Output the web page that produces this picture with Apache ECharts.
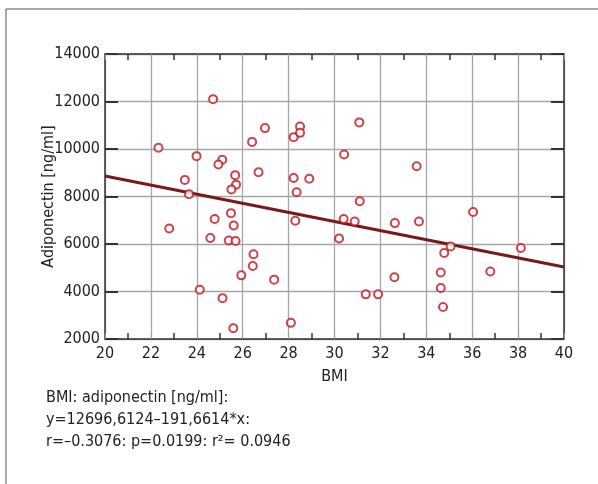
<!DOCTYPE html>
<html>
<head>
<meta charset="utf-8">
<script src="https://cdn.jsdelivr.net/npm/echarts@6/dist/echarts.min.js"></script>
<style>
  html, body { margin: 0; padding: 0; background: #fff; }
  #chart { width: 598px; height: 484px; }
</style>
</head>
<body>
<div id="chart"></div>
<script>
// BMI values (x)
var bmi = [24.71, 22.33, 23.99, 25.11, 24.94, 23.48, 23.66, 22.80, 25.67, 25.71,
           25.51, 25.49, 24.78, 25.61, 24.59, 25.39, 25.69, 26.47, 26.44, 25.94,
           27.37, 24.13, 25.12, 25.59, 28.10, 26.41, 26.97, 26.69, 28.22, 28.50,
           28.50, 28.22, 28.90, 28.35, 28.29, 31.08, 30.42, 31.10, 30.40, 30.88,
           30.20, 31.36, 31.90, 32.63, 32.61, 33.58, 33.68, 36.04, 35.06, 34.78,
           34.63, 34.63, 34.73, 36.79, 38.12];
// adiponectin [ng/ml] (y)
var adiponectin = [12100, 10050, 9700, 9550, 9350, 8700, 8100, 6650, 8900, 8500,
                   8300, 7300, 7050, 6780, 6250, 6150, 6130, 5570, 5070, 4680,
                   4500, 4070, 3720, 2450, 2680, 10300, 10880, 9020, 10500, 10950,
                   10680, 8780, 8750, 8180, 6980, 11120, 9770, 7800, 7050, 6950,
                   6230, 3880, 3880, 6880, 4600, 9270, 6950, 7350, 5900, 5620,
                   4800, 4150, 3350, 4840, 5830];
// regression line end points
var fitX = [20, 40];
var fitY = [8860, 5030];

var textLines = [
  'BMI: adiponectin [ng/ml]:',
  'y=12696,6124\u2013191,6614*x:',
  'r=\u20130.3076: p=0.0199: r\u00b2= 0.0946'
];

var font = '"Liberation Sans Narrow", "DejaVu Sans Condensed", sans-serif';
var fs = 16;

var points = bmi.map(function (v, i) { return [v, adiponectin[i]]; });
var fitLine = fitX.map(function (v, i) { return [v, fitY[i]]; });

var chart = echarts.init(document.getElementById('chart'));

function xAxisCfg(pos, showLabel) {
  return {
    type: 'value', position: pos, min: 20, max: 40, interval: 2,
    name: showLabel ? 'BMI' : '', nameLocation: 'middle', nameGap: 30,
    nameTextStyle: { fontFamily: font, fontSize: fs, color: '#222' },
    axisLine: { show: true, onZero: false, lineStyle: { color: '#333', width: 1.5 } },
    axisTick: { show: true, inside: true, length: 6, lineStyle: { color: '#999' } },
    minorTick: { show: true, splitNumber: 2, length: 6, lineStyle: { color: '#333', width: 1.5 } },
    axisLabel: { show: showLabel, fontFamily: font, fontSize: fs, color: '#222', margin: 7 },
    splitLine: { show: showLabel, lineStyle: { color: '#a6a6a6', width: 1.3 } }
  };
}
function yAxisCfg(pos, showLabel) {
  return {
    type: 'value', position: pos, min: 2000, max: 14000, interval: 2000,
    name: showLabel ? 'Adiponectin [ng/ml]' : '', nameLocation: 'middle',
    nameGap: 48, nameMoveOverlap: false,
    nameTextStyle: { fontFamily: font, fontSize: fs, color: '#222' },
    axisLine: { show: true, onZero: false, lineStyle: { color: '#333', width: 1.5 } },
    axisTick: { show: true, inside: true, length: 13, lineStyle: { color: '#333', width: 2 } },
    axisLabel: {
      show: showLabel, fontFamily: font, fontSize: fs, color: '#222', margin: 5,
      formatter: function (v) { return String(v); }
    },
    splitLine: { show: showLabel, lineStyle: { color: '#a6a6a6', width: 1.3 } }
  };
}

chart.setOption({
  animation: false,
  backgroundColor: '#fff',
  grid: { left: 105, right: 34, top: 54, bottom: 145 },
  xAxis: [xAxisCfg('bottom', true), xAxisCfg('top', false)],
  yAxis: [yAxisCfg('left', true), yAxisCfg('right', false)],
  graphic: [
    {
      type: 'rect', silent: true,
      shape: { x: 6, y: 9, width: 610, height: 500 },
      style: { fill: 'none', stroke: '#555', lineWidth: 1 }
    }
  ].concat(textLines.map(function (t, i) {
    return {
      type: 'text', left: 46, top: 390 + i * 22, silent: true,
      style: { text: t, fontFamily: font, fontSize: fs, fill: '#222' }
    };
  })),
  series: [
    {
      type: 'line', data: fitLine, showSymbol: false, symbol: 'none',
      lineStyle: { color: '#761a1a', width: 3 }, z: 2
    },
    {
      type: 'scatter', data: points, symbol: 'emptyCircle', symbolSize: 8,
      itemStyle: { color: '#c0141e', borderColor: '#c0141e', borderWidth: 1.6 }, z: 3
    }
  ]
});
</script>
</body>
</html>
